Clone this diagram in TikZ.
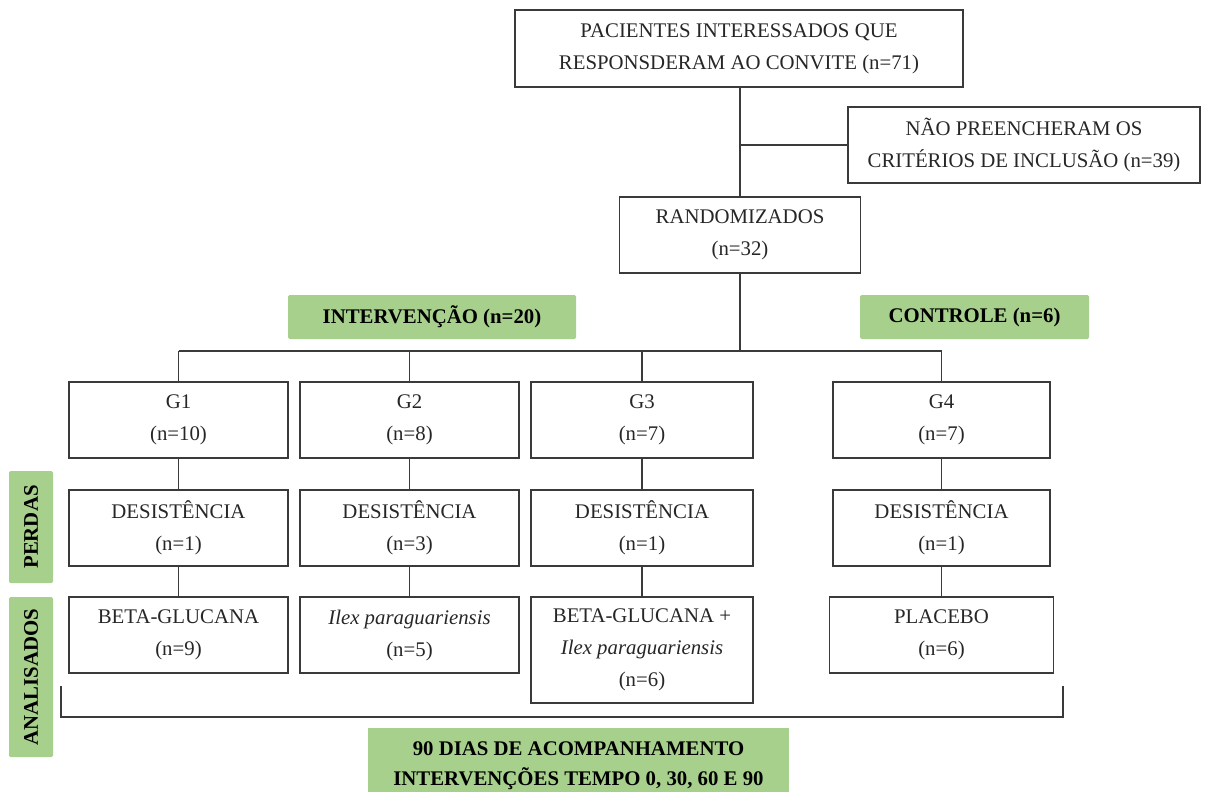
\documentclass[tikz,border=0pt]{standalone}
\usepackage{fontspec}
\setmainfont{Liberation Serif}
\definecolor{boxGreen}{HTML}{A8D08D}
\definecolor{lineGray}{HTML}{3A3A3A}

\begin{document}
\begin{tikzpicture}
[x=1pt,y=-1pt,
  lineDecorate/.style={-,draw=lineGray,line width=1.1pt},%
  boxDecorate/.style={shape=rectangle,draw=lineGray,line width=1.4pt,inner sep=0pt,
    align=center,text=black!85,font=\fontsize{20.8}{32}\selectfont},%
  greenDecorate/.style={shape=rectangle,fill=boxGreen,rounded corners=1.5pt,inner sep=0pt,
    align=center,font=\fontsize{20.8}{30}\selectfont\bfseries}]
\useasboundingbox (0,0) rectangle (1208,792);
\clip (0,0) rectangle (1208,792);
%% top boxes
\node (pacientes) at (739,48.5) [boxDecorate,minimum width=448pt,minimum height=77pt]
  {PACIENTES INTERESSADOS QUE\\RESPONSDERAM AO CONVITE (n=71)};
\node (naoCriterios) at (1024,145) [boxDecorate,minimum width=352pt,minimum height=76pt]
  {NÃO PREENCHERAM OS\\CRITÉRIOS DE INCLUSÃO (n=39)};
\node (randomizados) at (740,235) [boxDecorate,minimum width=241pt,minimum height=76pt]
  {RANDOMIZADOS\\(n=32)};
%% green labels
\node (intervencao) at (432,317) [greenDecorate,minimum width=288pt,minimum height=44pt] {INTERVENÇÃO (n=20)};
\node (controle) at (974.5,317) [greenDecorate,minimum width=229pt,minimum height=44pt] {CONTROLE (n=6)};
\node (perdas) at (31,527) [greenDecorate,rotate=90,minimum width=112pt,minimum height=44pt] {PERDAS};
\node (analisados) at (31,677) [greenDecorate,rotate=90,minimum width=160pt,minimum height=44pt] {ANALISADOS};
\node (acompanhamento) at (578.5,766) [greenDecorate,rounded corners=0pt,minimum width=421pt,minimum height=76pt]
  {90 DIAS DE ACOMPANHAMENTO\\INTERVENÇÕES TEMPO 0, 30, 60 E 90};
%% groups and losses
\foreach \col/\x/\w/\grp/\lost in {1/178.5/219/10/1, 2/409.5/219/8/3, 3/642/222/7/1, 4/941.5/217/7/1}
{
  \node (g\col) at (\x,420) [boxDecorate,minimum width=\w pt,minimum height=76pt] {G\col\\(n=\grp)};
  \node (des\col) at (\x,528) [boxDecorate,minimum width=\w pt,minimum height=76pt] {DESISTÊNCIA\\(n=\lost)};
}
%% analysed
\foreach \col/\x/\y/\w/\h/\txt in {1/178.5/635/219/76/{BETA-GLUCANA\\(n=9)},
  2/409.5/635/219/76/{\textit{Ilex paraguariensis}\\(n=5)},
  3/642/650/222/106/{BETA-GLUCANA +\\\textit{Ilex paraguariensis}\\(n=6)},
  4/941.5/635/224/76/{PLACEBO\\(n=6)}}
{
  \node (ana\col) at (\x,\y) [boxDecorate,minimum width=\w pt,minimum height=\h pt] {\txt};
}
%% trunk and branches
\coordinate (bar) at (740,351);
\draw[lineDecorate] (pacientes.south -| randomizados.north) -- (randomizados.north);
\draw[lineDecorate] (naoCriterios.west -| randomizados.north) -- (naoCriterios.west);
\draw[lineDecorate] (randomizados.south) -- (randomizados.south |- bar);
\draw[lineDecorate] (g1.north |- bar) -- (g4.north |- bar);
\foreach \nodename in {g1,g2,g3,g4}
{
  \draw[lineDecorate] (\nodename.north |- bar) -- (\nodename.north);
}
%% edges between rows
\path
\foreach \startnode/\endnode in {g1/des1, g2/des2, g3/des3, g4/des4, des1/ana1, des2/ana2, des3/ana3, des4/ana4}
{
  (\startnode) edge[lineDecorate] (\endnode)
};
%% bracket
\coordinate (bracketL) at (61,686);
\coordinate (bracketR) at (1063,686);
\draw[lineDecorate] (bracketL) -- ++(0,31) -| (bracketR);
\end{tikzpicture}
\end{document}
